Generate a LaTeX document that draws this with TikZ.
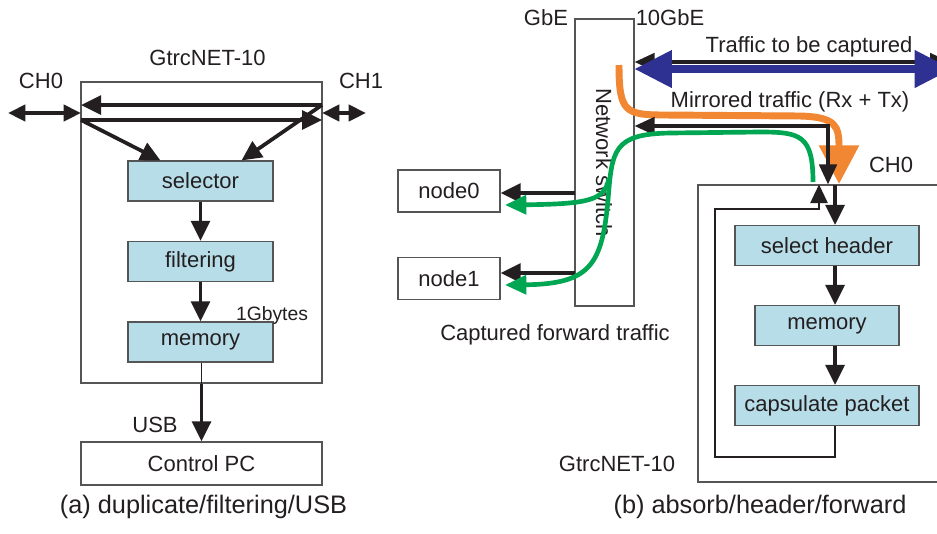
\documentclass[tikz,border=0pt]{standalone}
\usepackage{fontspec}
\setmainfont{Liberation Sans}
\usetikzlibrary{arrows.meta,calc}
\definecolor{boxblue}{RGB}{183,221,232}
\definecolor{tblue}{RGB}{46,49,146}
\definecolor{torange}{RGB}{241,135,50}
\definecolor{tgreen}{RGB}{0,166,81}
\definecolor{ink}{RGB}{35,31,32}
\definecolor{framec}{RGB}{85,85,85}
\begin{document}
\begin{tikzpicture}[x=0.75pt,y=-0.75pt,
  every node/.style={font=\fontsize{16.5}{19}\selectfont, text=ink},
  outerbox/.style={draw=framec, line width=0.8pt, fill=white, inner sep=0pt},
  fnbox/.style={draw=framec, line width=0.8pt, fill=boxblue, inner sep=0pt, minimum height=30pt},
  lbl/.style={anchor=base, inner sep=0pt},
  captionfont/.style={font=\fontsize{19}{22}\selectfont},
  thickarrow/.style={draw=ink, line width=2.8pt, -{Triangle[length=15pt,width=14pt]}},
  dblarrow/.style={draw=ink, line width=2.8pt, {Triangle[length=15pt,width=13pt]}-{Triangle[length=15pt,width=13pt]}},
  chdbl/.style={draw=ink, line width=2.8pt, {Triangle[length=13pt,width=12pt]}-{Triangle[length=13pt,width=12pt]}},
  thinline/.style={draw=ink, line width=1.3pt},
  fbarrow/.style={draw=ink, line width=1.3pt, -{Triangle[length=14pt,width=13pt]}},
  bluearrow/.style={draw=tblue, line width=5.5pt, {Triangle[length=28pt,width=27pt]}-{Triangle[length=28pt,width=27pt]}},
  orangearrow/.style={draw=torange, line width=5.2pt, -{Triangle[length=29pt,width=29pt]}},
  greenarrow/.style={draw=tgreen, line width=3.5pt, -{Triangle[length=16pt,width=14pt]}}
]
\useasboundingbox (0,0) rectangle (937,533);
\fill[white] (0,0) rectangle (937,533);

% ---------- (a) ----------
\node[outerbox, minimum width=180.75pt, minimum height=225.75pt] (gtrcA) at (201.5,232.5) {};
\node[fnbox, minimum width=108.75pt] (selA) at (200.5,181) {selector};
\node[fnbox, minimum width=108.75pt] (filA) at (200.5,261.5) {filtering};
\node[fnbox, minimum width=108.75pt] (memA) at (200.5,342) {memory};
\node[outerbox, minimum width=180.75pt, minimum height=32.25pt] (pc) at (201.5,463.5) {Control PC};

\node[lbl] (lblA) at (207.5,65) {GtrcNET-10};
\node[lbl] (ch0A) at (41,88) {CH0};
\node[lbl] (ch1A) at (361,88) {CH1};
\node[lbl, font=\fontsize{14.5}{16}\selectfont] (gbytes) at (272,320) {1Gbytes};
\node[lbl] (usb) at (155,432) {USB};
\node[lbl, captionfont] (capA) at (203.5,513) {(a) duplicate/filtering/USB};

\coordinate (aTL) at (81,105);
\coordinate (aTR) at (322,105);
\coordinate (aBL) at (81,120);
\coordinate (aBR) at (322,120);
\coordinate (aML) at (81,113);
\coordinate (aMR) at (322,113);
\coordinate (ch0end) at (8,113);
\coordinate (ch1end) at (366,113);

\draw[thickarrow] (aTR) -- (aTL);
\draw[thickarrow] (aBL) -- (aBR);
\draw[thickarrow] (aBL) -- ($(selA.north)+(-40,0)$);
\draw[thickarrow] (aTR) -- ($(selA.north)+(41,0)$);
\draw[chdbl] (ch0end) -- (aML);
\draw[chdbl] (aMR) -- (ch1end);
\draw[thickarrow] (selA.south) -- (filA.north);
\draw[thickarrow] (filA.south) -- (memA.north);
\coordinate (usbtop) at ($(memA.south |- gtrcA.south)+(1,0)$);
\draw[thinline] ($(memA.south)+(1,0)$) -- (usbtop);
\draw[thickarrow] (usbtop) -- (usbtop |- pc.north);

% ---------- (b) ----------
\node[outerbox, minimum width=44.25pt, minimum height=215.25pt] (sw) at (604.5,162.5) {};
\node[rotate=-90, inner sep=0pt] (swlbl) at (604,162.5) {Network switch};
\node[outerbox, minimum width=76.5pt, minimum height=31.5pt] (n0) at (449,191) {node0};
\node[outerbox, minimum width=76.5pt, minimum height=32pt] (n1) at (449,278.5) {node1};
\node[outerbox, minimum width=185.25pt, minimum height=222.75pt] (gtrcB) at (821.5,333.5) {};
\node[fnbox, minimum width=138pt] (selh) at (827,245.5) {select header};
\node[fnbox, minimum width=108pt] (memB) at (827,325.5) {memory};
\node[fnbox, minimum width=138pt] (caps) at (827,405.5) {capsulate packet};

\node[lbl] (gbe) at (546,25) {GbE};
\node[lbl] (tgbe) at (670,25) {10GbE};
\node[lbl] (ttbc) at (809,52) {Traffic to be captured};
\node[lbl] (mirr) at (790,107) {Mirrored traffic (Rx + Tx)};
\node[lbl] (ch0B) at (891,172) {CH0};
\node[lbl] (cft) at (555,340) {Captured forward traffic};
\node[lbl] (lblB) at (617,471) {GtrcNET-10};
\node[lbl, captionfont] (capB) at (760,513) {(b) absorb/header/forward};

% traffic to be captured
\coordinate (tkR) at (950,62);
\coordinate (tbR) at (952,69);
\draw[dblarrow] (sw.east |- tkR) -- (tkR);
\draw[bluearrow] (sw.east |- tbR) -- (tbR);

% orange mirrored path
\coordinate (os) at (619,65);
\coordinate (oe) at (839,184);
\draw[orangearrow] (os) .. controls (619,112) and (625,115) .. (665,115)
  -- (800,116) .. controls (836,117) and (839,126) .. (oe);

% black mirrored line
\coordinate (mirC) at (828,126);
\draw[dblarrow] (sw.east |- mirC) -- (mirC) -- (mirC |- gtrcB.north);

% inside GtrcNET-10 (b)
\coordinate (chin) at (835,185);
\draw[thickarrow] (chin) -- (chin |- selh.north);
\draw[thickarrow] (chin |- selh.south) -- (chin |- memB.north);
\draw[thickarrow] (chin |- memB.south) -- (chin |- caps.north);
\coordinate (fb1) at (715,457);
\coordinate (fb2) at (819,209);
\draw[fbarrow] (chin |- caps.south) |- (fb1) |- (fb2) -- (fb2 |- gtrcB.north);

% switch to nodes
\coordinate (k0) at (575,193);
\coordinate (k1) at (575,273);
\draw[thickarrow] (k0) -- (k0 -| n0.east);
\draw[thickarrow] (k1) -- (k1 -| n1.east);

% green forward path
\coordinate (gs) at (813,182);
\coordinate (gbr) at (609,178);
\coordinate (g0) at (505,205);
\coordinate (g1) at (505,285);
\draw[greenarrow] (gs) .. controls (813,135) and (800,132) .. (760,132)
  -- (670,133) .. controls (613,134) and (612,150) .. (608,200)
  .. controls (602,265) and (590,284) .. (g1);
\draw[greenarrow] (gbr) .. controls (605,200) and (590,204) .. (g0);
\end{tikzpicture}
\end{document}
